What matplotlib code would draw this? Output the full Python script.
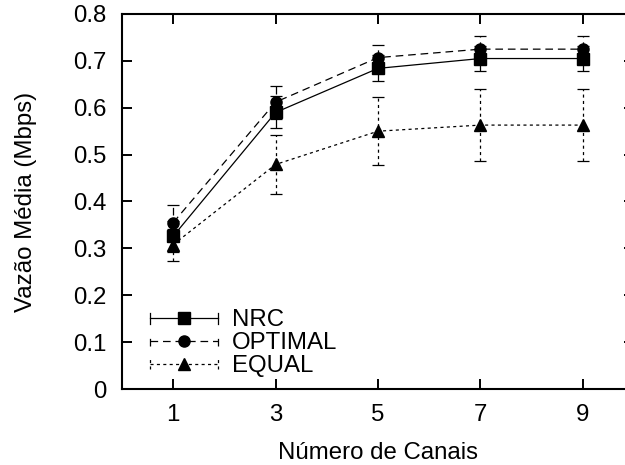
import matplotlib
matplotlib.use("Agg")
import matplotlib.pyplot as plt
from matplotlib.lines import Line2D
from matplotlib.legend_handler import HandlerBase

plt.rcParams['font.family'] = ['Liberation Sans', 'DejaVu Sans']
plt.rcParams['lines.scale_dashes'] = False

# Data
canais = [1, 3, 5, 7, 9]
nrc = [0.326, 0.590, 0.684, 0.705, 0.705]
nrc_err = [0.033, 0.034, 0.028, 0.027, 0.027]
optimal = [0.355, 0.612, 0.707, 0.725, 0.725]
optimal_err = [0.037, 0.035, 0.027, 0.028, 0.028]
equal = [0.308, 0.479, 0.550, 0.563, 0.563]
equal_err = [0.034, 0.062, 0.072, 0.077, 0.077]
series_labels = ["NRC", "OPTIMAL", "EQUAL"]
xticks = [1, 3, 5, 7, 9]
yticks = [0, 0.1, 0.2, 0.3, 0.4, 0.5, 0.6, 0.7, 0.8]
ytick_labels = ["0", "0.1", "0.2", "0.3", "0.4", "0.5", "0.6", "0.7", "0.8"]

styles = [
    dict(ls='-', marker='s', ms=8.5),
    dict(ls=(0, (5.5, 3.5)), marker='o', ms=8.0),
    dict(ls=(0, (2.2, 2.4)), marker='^', ms=8.0),
]

FS = 17.3

fig = plt.figure(figsize=(6.25, 4.65), dpi=100)
ax = fig.add_axes([122/625, 76/465, 512/625, 375/465])

lw = 0.9
handles = []
for vals, errs, st, lab in zip([nrc, optimal, equal], [nrc_err, optimal_err, equal_err], styles, series_labels):
    cont = ax.errorbar(canais, vals, yerr=errs, color='black', lw=lw, linestyle=st['ls'],
                       marker=st['marker'], ms=st['ms'], mfc='black', mec='black',
                       capsize=4.5, capthick=lw, elinewidth=lw, ecolor='black', label=lab)
    for bc in cont[2]:
        bc.set_linestyle(st['ls'])
    handles.append(cont[0])


class GnuplotErrHandler(HandlerBase):
    def create_artists(self, legend, orig_handle, xdescent, ydescent, width, height, fontsize, trans):
        y = height / 2 - ydescent
        x0 = -xdescent
        x1 = -xdescent + width
        h = 4.0
        line = Line2D([x0, x1], [y, y])
        line.update_from(orig_handle)
        line.set_marker('None')
        c0 = Line2D([x0, x0], [y - h, y + h])
        c0.update_from(orig_handle)
        c0.set_marker('None')
        c1 = Line2D([x1, x1], [y - h, y + h])
        c1.update_from(orig_handle)
        c1.set_marker('None')
        mk = Line2D([(x0 + x1) / 2], [y])
        mk.update_from(orig_handle)
        mk.set_linestyle('None')
        arts = [line, c0, c1, mk]
        for a in arts:
            a.set_transform(trans)
        return arts


ax.set_xlim(0, 10)
ax.set_ylim(0, 0.8)
ax.set_xticks(xticks)
ax.set_xticklabels([str(t) for t in xticks])
ax.set_yticks(yticks)
ax.set_yticklabels(ytick_labels)

ax.tick_params(axis='both', direction='in', length=7.5, width=1.4, labelsize=FS,
               top=True, right=True)
ax.tick_params(axis='y', pad=11)
ax.tick_params(axis='x', pad=11)
for sp in ax.spines.values():
    sp.set_linewidth(1.5)

ax.set_xlabel("Número de Canais", fontsize=FS, labelpad=11)
ax.set_ylabel("Vazão Média (Mbps)", fontsize=FS, labelpad=26)

leg = ax.legend(handles, series_labels, loc='upper left', bbox_to_anchor=(28/512, 0.212),
                frameon=False, fontsize=FS, handlelength=2.85, handletextpad=0.55,
                labelspacing=0.03, borderpad=0, borderaxespad=0,
                handler_map={Line2D: GnuplotErrHandler()})

fig.savefig("out.png", dpi=100)
